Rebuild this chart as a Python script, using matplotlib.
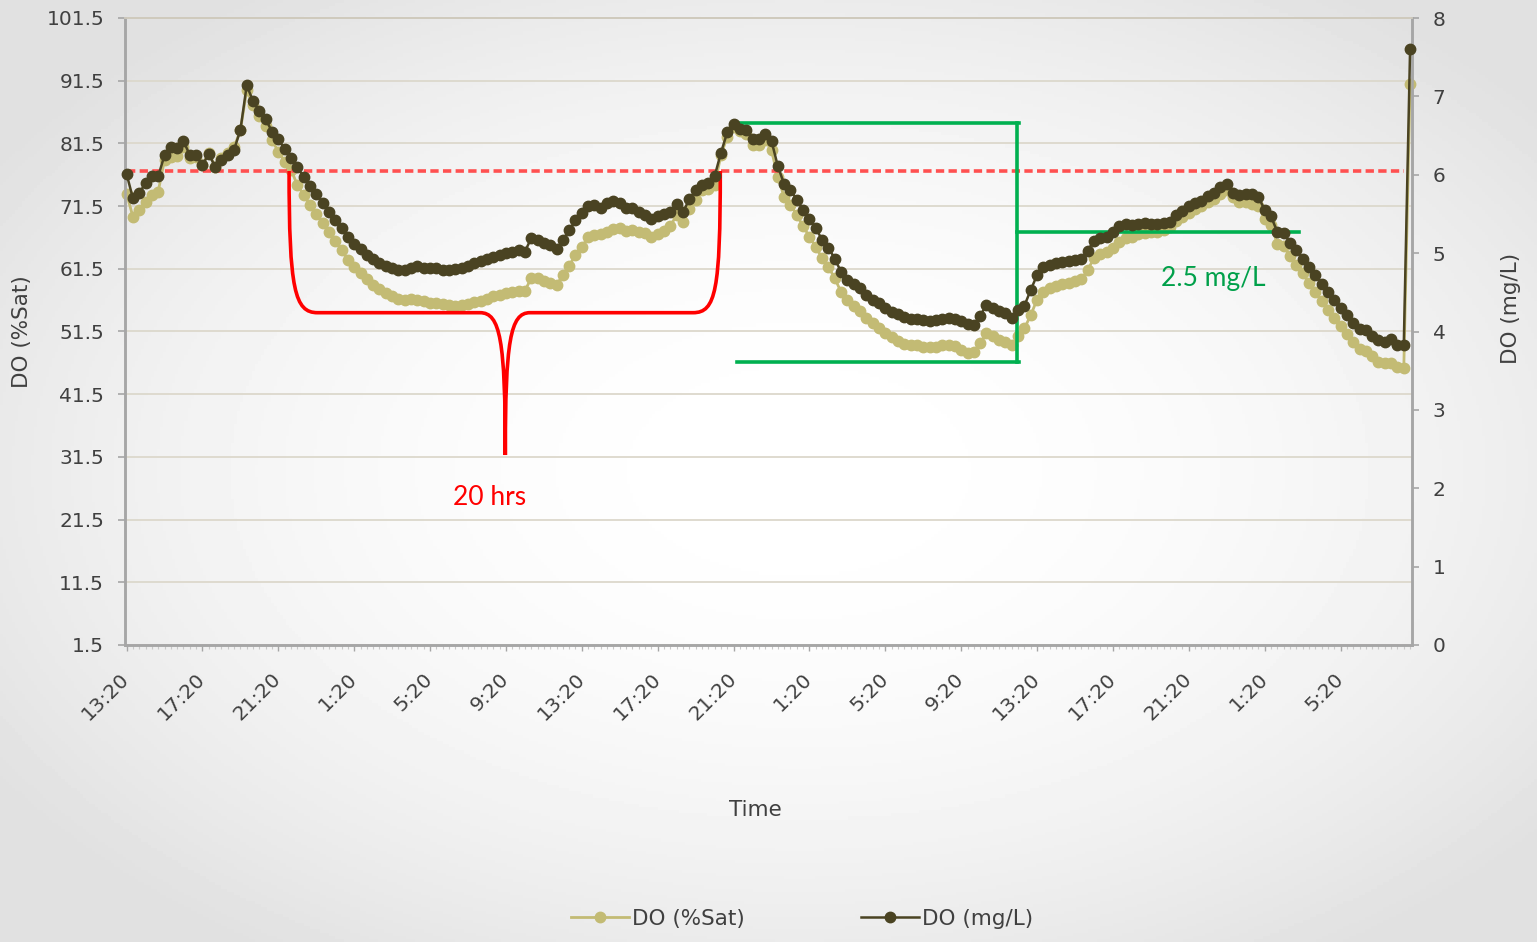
import numpy as np
import matplotlib.pyplot as plt
from matplotlib.path import Path
from matplotlib.patches import PathPatch

# dissolved oxygen, one reading every 20 minutes
do_sat = [73.5, 69.8, 70.8, 72.2, 73.3, 73.8, 78.9, 79.3, 79.5, 81.0,
          79.1, 79.3, 78.1, 80.0, 77.8, 79.1, 80.0, 80.9, 83.6, 90.0,
          87.6, 85.8, 84.3, 82.0, 80.2, 78.6, 77.3, 74.9, 73.3, 71.7,
          70.2, 68.8, 67.3, 66.0, 64.5, 62.9, 61.8, 60.8, 59.8, 58.9,
          58.2, 57.6, 57.1, 56.7, 56.6, 56.7, 56.6, 56.3, 56.1, 56.0,
          55.9, 55.7, 55.6, 55.7, 55.9, 56.2, 56.4, 56.7, 57.1, 57.3,
          57.6, 57.8, 58.0, 58.0, 60.0, 60.0, 59.6, 59.3, 58.9, 60.5,
          62.0, 63.7, 65.0, 66.5, 66.9, 67.0, 67.4, 67.8, 68.0, 67.6,
          67.7, 67.4, 67.2, 66.5, 67.1, 67.6, 68.3, 70.1, 68.9, 71.0,
          72.5, 74.0, 74.2, 74.9, 79.6, 82.6, 84.1, 83.4, 83.0, 81.2,
          81.2, 82.0, 80.4, 76.1, 73.0, 71.7, 70.1, 68.3, 66.6, 65.0,
          63.2, 61.8, 60.0, 57.8, 56.5, 55.6, 54.7, 53.6, 52.8, 52.0,
          51.2, 50.6, 50.0, 49.5, 49.4, 49.3, 49.1, 49.0, 49.1, 49.3,
          49.3, 49.2, 48.5, 48.1, 48.3, 49.6, 51.3, 50.8, 50.1, 49.9,
          49.3, 50.8, 52.0, 54.1, 56.6, 57.8, 58.4, 58.8, 59.1, 59.3,
          59.6, 59.8, 61.3, 63.2, 63.9, 64.2, 64.8, 65.8, 66.4, 66.6,
          67.1, 67.2, 67.3, 67.4, 67.7, 68.2, 69.2, 69.8, 70.4, 71.0,
          71.5, 72.2, 72.7, 73.4, 74.0, 72.9, 72.2, 72.2, 71.8, 71.5,
          69.4, 68.5, 65.5, 65.1, 63.5, 62.1, 60.8, 59.2, 57.8, 56.4,
          55.0, 53.6, 52.3, 51.1, 49.9, 48.7, 48.4, 47.6, 46.7, 46.5,
          46.5, 45.8, 45.6, 91.0]

do_mg = [6.01, 5.70, 5.77, 5.89, 5.98, 5.98, 6.25, 6.35, 6.34, 6.43,
         6.25, 6.25, 6.12, 6.27, 6.10, 6.19, 6.25, 6.32, 6.57, 7.14,
         6.94, 6.81, 6.71, 6.55, 6.45, 6.33, 6.22, 6.10, 5.97, 5.86,
         5.75, 5.64, 5.53, 5.42, 5.32, 5.20, 5.12, 5.05, 4.98, 4.92,
         4.88, 4.84, 4.81, 4.78, 4.79, 4.81, 4.83, 4.81, 4.81, 4.81,
         4.79, 4.78, 4.80, 4.81, 4.84, 4.87, 4.90, 4.93, 4.95, 4.98,
         5.00, 5.02, 5.04, 5.02, 5.19, 5.17, 5.13, 5.10, 5.05, 5.17,
         5.29, 5.42, 5.51, 5.60, 5.61, 5.58, 5.64, 5.66, 5.64, 5.57,
         5.57, 5.53, 5.49, 5.44, 5.47, 5.50, 5.52, 5.63, 5.52, 5.69,
         5.80, 5.87, 5.90, 5.98, 6.28, 6.54, 6.65, 6.58, 6.57, 6.46,
         6.46, 6.52, 6.43, 6.11, 5.88, 5.81, 5.68, 5.55, 5.43, 5.32,
         5.17, 5.07, 4.93, 4.76, 4.66, 4.61, 4.55, 4.47, 4.40, 4.36,
         4.30, 4.25, 4.22, 4.19, 4.16, 4.16, 4.15, 4.14, 4.15, 4.16,
         4.17, 4.16, 4.13, 4.10, 4.08, 4.20, 4.34, 4.30, 4.26, 4.23,
         4.17, 4.27, 4.33, 4.53, 4.72, 4.82, 4.85, 4.88, 4.89, 4.90,
         4.91, 4.92, 5.03, 5.16, 5.19, 5.21, 5.27, 5.35, 5.37, 5.36,
         5.37, 5.39, 5.37, 5.37, 5.38, 5.40, 5.49, 5.54, 5.60, 5.64,
         5.67, 5.73, 5.77, 5.84, 5.88, 5.77, 5.74, 5.76, 5.75, 5.72,
         5.55, 5.47, 5.27, 5.26, 5.13, 5.04, 4.93, 4.82, 4.72, 4.61,
         4.51, 4.40, 4.30, 4.21, 4.11, 4.03, 4.02, 3.94, 3.89, 3.87,
         3.91, 3.83, 3.83, 7.61]

time_labels = ['13:20', '17:20', '21:20', '1:20', '5:20', '9:20',
               '13:20', '17:20', '21:20', '1:20', '5:20', '9:20',
               '13:20', '17:20', '21:20', '1:20', '5:20']
label_every = 12

LIGHT = '#c3bb74'
DARK = '#4a4322'
TXT = '#404040'
AXC = '#a6a6a6'
RED = '#ff0000'
GREEN = '#00b050'

fig = plt.figure(figsize=(15.37, 9.42), dpi=100)

# soft radial background
bg = fig.add_axes([0, 0, 1, 1], zorder=-10)
gy, gx = np.mgrid[0:1:300j, 0:1:500j]
r = np.sqrt(((gx - 0.52) / 0.62) ** 2 + ((gy - 0.5) / 0.62) ** 2)
bg.imshow(1 - 0.12 * np.clip(r, 0, 1) ** 2, cmap='gray', vmin=0, vmax=1,
          extent=[0, 1, 0, 1], aspect='auto')
bg.axis('off')

ax1 = fig.add_axes([125 / 1537, 1 - 645 / 942, 1287 / 1537, 627 / 942])
ax1.patch.set_visible(False)
ax2 = ax1.twinx()

x = np.arange(len(do_sat))
l1, = ax1.plot(x, do_sat, color=LIGHT, lw=2, marker='o', ms=7.5,
               clip_on=False, zorder=3)
l2, = ax2.plot(x, do_mg, color=DARK, lw=1.8, marker='o', ms=7.5,
               clip_on=False, zorder=3)

ax1.set_xlim(-0.25, len(x) - 0.7)
ax1.set_ylim(1.5, 101.5)
ax2.set_ylim(0, 8)

ax1.set_yticks(np.arange(1.5, 101.6, 10))
ax1.set_yticklabels(['%.1f' % v for v in np.arange(1.5, 101.6, 10)])
ax2.set_yticks(range(0, 9))
ax1.set_xticks(np.arange(0, len(x), label_every))
ax1.set_xticklabels(time_labels, rotation=45, ha='right', va='center',
                    rotation_mode='anchor')
ax1.set_xticks(x, minor=True)

ax1.set_axisbelow(True)
ax1.yaxis.grid(True, color='#dcd8cc', lw=1.3)
ax1.tick_params(axis='y', colors=AXC, labelcolor=TXT, labelsize=14.5,
                length=5, width=1.2, pad=10)
ax2.tick_params(axis='y', colors=AXC, labelcolor=TXT, labelsize=14.5,
                length=5, width=1.2, pad=10)
ax1.tick_params(axis='x', which='major', colors=AXC, labelcolor=TXT,
                labelsize=14.5, length=4, width=1, pad=18)
ax1.tick_params(axis='x', which='minor', colors='#c8c8c8', length=3, width=0.8)

for ax in (ax1, ax2):
    for side in ('left', 'right', 'bottom'):
        ax.spines[side].set_color(AXC)
        ax.spines[side].set_linewidth(1.8)
    ax.spines['top'].set_color('#cfcabd')
    ax.spines['top'].set_linewidth(1.3)

ax1.set_ylabel('DO (%Sat)', fontsize=15.5, color=TXT)
ax1.yaxis.set_label_coords(-0.072, 0.5)
ax2.set_ylabel('DO (mg/L)', fontsize=15.5, color=TXT)
ax2.yaxis.set_label_coords(1.069, 0.537)
ax1.set_xlabel('Time', fontsize=15.5, color=TXT)
ax1.xaxis.set_label_coords(0.4895, -0.247)

# 6 mg/L threshold
ax1.plot([0, 202], [77.1, 77.1], color='#ff5050', lw=2.6,
         dashes=(2.3, 1.2), zorder=4)

# brace marking the 20 h below threshold
brace = Path([(25.7, 77.1), (25.7, 58.1), (26.6, 54.5), (30.2, 54.5),
              (55.9, 54.5),
              (59.1, 54.5), (59.9, 50.1), (59.9, 31.8),
              (59.9, 50.1), (60.7, 54.5), (63.8, 54.5),
              (89.6, 54.5),
              (93.2, 54.5), (93.9, 58.1), (93.9, 77.1)],
             [Path.MOVETO, Path.CURVE4, Path.CURVE4, Path.CURVE4,
              Path.LINETO,
              Path.CURVE4, Path.CURVE4, Path.CURVE4,
              Path.CURVE4, Path.CURVE4, Path.CURVE4,
              Path.LINETO,
              Path.CURVE4, Path.CURVE4, Path.CURVE4])
ax1.add_patch(PathPatch(brace, fill=False, edgecolor=RED, lw=2.6,
                        zorder=4, clip_on=False))
ax1.text(57.4, 25.1, '20 hrs', color=RED, fontsize=19, family='Lato',
         ha='center', va='center')

# daily swing bracket
ax1.plot([96.3, 141.1], [84.75, 84.75], color=GREEN, lw=2.6, zorder=4)
ax1.plot([96.6, 141.1], [46.6, 46.6], color=GREEN, lw=2.6, zorder=4)
ax1.plot([140.9, 140.9], [84.75, 46.6], color=GREEN, lw=2.6, zorder=4)
ax1.plot([140.9, 185.4], [67.4, 67.4], color=GREEN, lw=2.6, zorder=4)
ax1.text(171.9, 59.9, '2.5 mg/L', color='#00a04a', fontsize=19,
         family='Lato', ha='center', va='center')

fig.legend([l1, l2], ['DO (%Sat)', 'DO (mg/L)'], loc='center',
           bbox_to_anchor=(802 / 1537, 1 - 919 / 942), ncol=2,
           frameon=False, fontsize=15.5, handlelength=2.7,
           handletextpad=0.15, columnspacing=5.4, labelcolor=TXT)

fig.savefig('out.png', dpi=100)
